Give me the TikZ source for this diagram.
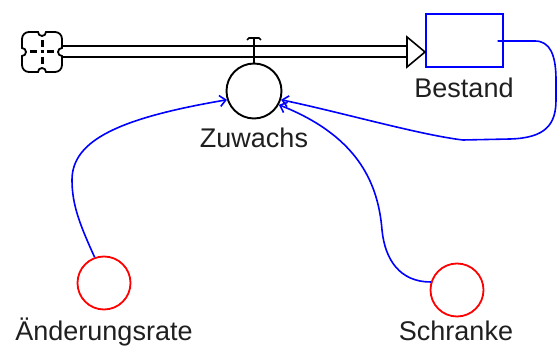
\documentclass[tikz,border=0pt]{standalone}
\usepackage{fontspec}
\setmainfont{Liberation Sans}
\usetikzlibrary{arrows.meta}
\begin{document}
\begin{tikzpicture}[x=1pt,y=-1pt,
  lbl/.style={font=\fontsize{27}{32}\selectfont, text=black!88, anchor=base, inner sep=0},
  aux/.style={circle, draw=red, line width=1.8pt, minimum size=53pt, inner sep=0},
  link/.style={draw=blue, line width=1.6pt, -{Straight Barb[length=6pt,width=11pt]}},
  pipe/.style={line width=2pt},
  blk/.style={line width=1.8pt}]
\useasboundingbox (0,0) rectangle (557,347);
% nodes
\node[circle, draw, line width=1.9pt, minimum size=55pt, inner sep=0] (zuw) at (254,91) {};
\node[aux] (aend) at (104,283) {};
\node[aux] (schr) at (457,290) {};
\node[draw=blue, line width=2pt, minimum width=77pt, minimum height=53pt, inner sep=0] (best) at (464,41) {};
\node[minimum size=40pt, inner sep=0] (cloud) at (42,52) {};
\coordinate (tri) at (407,52);
% pipe
\draw[pipe] ([yshift=5.5pt]cloud.east) -- ([yshift=5.5pt]tri);
\draw[pipe] ([yshift=-5.5pt]cloud.east) -- ([yshift=-5.5pt]tri);
% cloud
\begin{scope}[shift={(cloud.center)}, yscale=-1]
\draw[blk, fill=white] (-4,20) arc[start angle=180, end angle=360, radius=4]
  -- (13,20) arc[start angle=90, end angle=0, radius=7]
  -- (20,4) arc[start angle=90, end angle=270, radius=4]
  -- (20,-13) arc[start angle=0, end angle=-90, radius=7]
  -- (4,-20) arc[start angle=0, end angle=180, radius=4]
  -- (-13,-20) arc[start angle=-90, end angle=-180, radius=7]
  -- (-20,-4) arc[start angle=-90, end angle=90, radius=4]
  -- (-20,13) arc[start angle=180, end angle=90, radius=7] -- cycle;
\draw[line width=3pt] (-12,0) -- (-5,0) (-1.5,0) -- (1.5,0) (5,0) -- (12,0)
  (0,-12) -- (0,-5) (0,5) -- (0,12);
\end{scope}
% flow arrow head
\draw[line width=1.6pt, fill=white] (tri) ++(0,-15) -- ++(18,15) -- ++(-18,15) -- cycle;
% valve
\draw[line width=1.7pt] (zuw.north) -- (254,38) coordinate (vtop);
\draw[line width=1.7pt] (247,40) -- (249,38) -- (259,38) -- (261,40);
% labels
\node[lbl] (lzuw) at (254,148) {Zuwachs};
\node[lbl] (lbest) at (464,98) {Bestand};
\node[lbl] (laend) at (104,341) {Änderungsrate};
\node[lbl] (lschr) at (456,341) {Schranke};
% connectors
\draw[link] (aend.110) .. controls (80,225) and (72,205) .. (72,180)
  .. controls (72,140) and (120,118) .. (zuw.198);
\draw[link] ([xshift=-6pt]best.east) -- (535,41) .. controls (550,41) and (556,55) .. (556,80)
  -- (556,100) .. controls (556,125) and (545,138) .. (510,139) -- (463,140)
  .. controls (420,135) and (340,112) .. (zuw.342);
\draw[link] (schr.163) .. controls (400,282) and (385,260) .. (382,230)
  .. controls (378,180) and (355,135) .. (zuw.331);
\end{tikzpicture}
\end{document}
